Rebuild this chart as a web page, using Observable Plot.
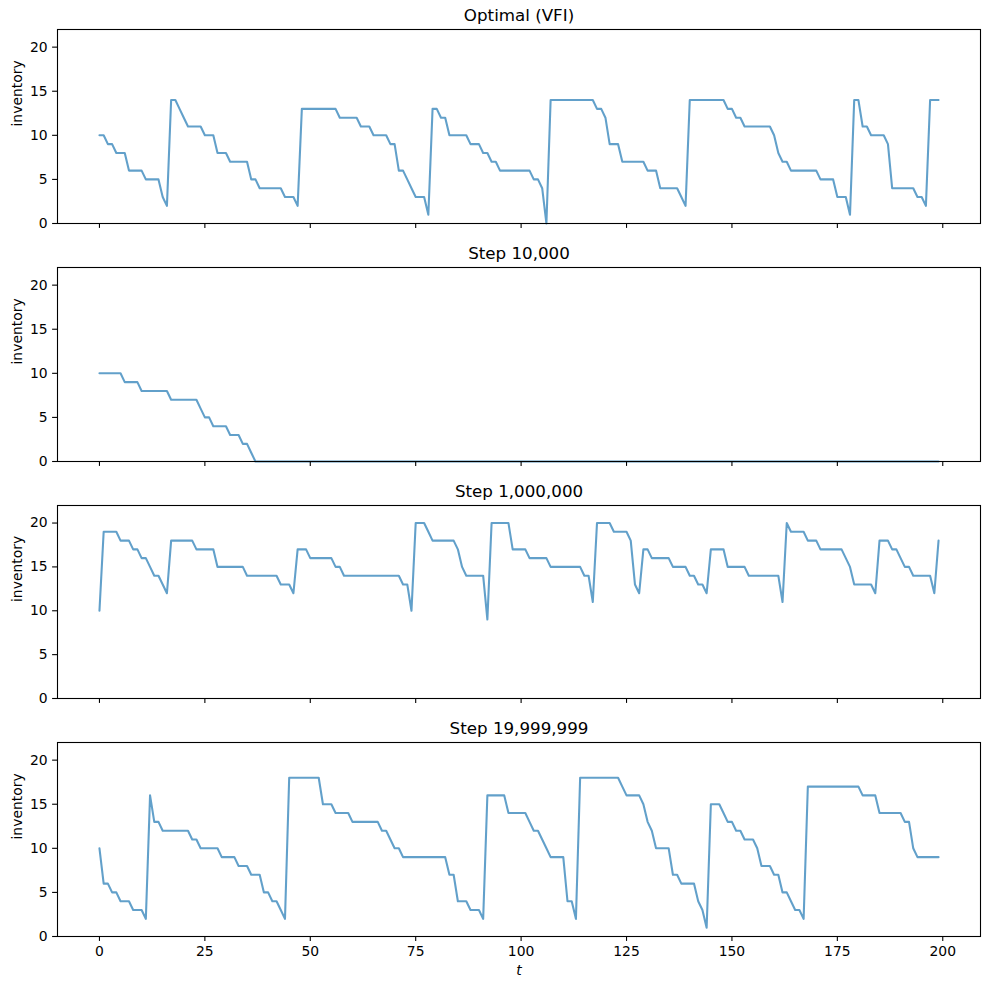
<!DOCTYPE html>
<html><head><meta charset="utf-8">
<script src="https://cdn.jsdelivr.net/npm/d3@7"></script>
<script src="https://cdn.jsdelivr.net/npm/@observablehq/plot@0.6"></script>
<style>body{margin:0;background:#fff} #chart svg{display:block}</style>
</head><body><div id="chart"></div>
<script>
const titles = ["Optimal (VFI)", "Step 10,000", "Step 1,000,000", "Step 19,999,999"];
const yLabel = "inventory";
const xLabel = "t";
const xTicks = [0, 25, 50, 75, 100, 125, 150, 175, 200];
const yTicks = [0, 5, 10, 15, 20];

const vfi = [10,10,9,9,8,8,8,6,6,6,
 6,5,5,5,5,3,2,14,14,13,
 12,11,11,11,11,10,10,10,8,8,
 8,7,7,7,7,7,5,5,4,4,
 4,4,4,4,3,3,3,2,13,13,
 13,13,13,13,13,13,13,12,12,12,
 12,12,11,11,11,10,10,10,10,9,
 9,6,6,5,4,3,3,3,1,13,
 13,12,12,10,10,10,10,10,9,9,
 9,8,8,7,7,6,6,6,6,6,
 6,6,6,5,5,4,0,14,14,14,
 14,14,14,14,14,14,14,14,13,13,
 12,9,9,9,7,7,7,7,7,7,
 6,6,6,4,4,4,4,4,3,2,
 14,14,14,14,14,14,14,14,14,13,
 13,12,12,11,11,11,11,11,11,11,
 10,8,7,7,6,6,6,6,6,6,
 6,5,5,5,5,3,3,3,1,14,
 14,11,11,10,10,10,10,9,4,4,
 4,4,4,4,3,3,2,14,14,14];

const step10k = [10,10,10,10,10,10,9,9,9,9,
 8,8,8,8,8,8,8,7,7,7,
 7,7,7,7,6,5,5,4,4,4,
 4,3,3,3,2,2,1,0,0,0,
 0,0,0,0,0,0,0,0,0,0,
 0,0,0,0,0,0,0,0,0,0,
 0,0,0,0,0,0,0,0,0,0,
 0,0,0,0,0,0,0,0,0,0,
 0,0,0,0,0,0,0,0,0,0,
 0,0,0,0,0,0,0,0,0,0,
 0,0,0,0,0,0,0,0,0,0,
 0,0,0,0,0,0,0,0,0,0,
 0,0,0,0,0,0,0,0,0,0,
 0,0,0,0,0,0,0,0,0,0,
 0,0,0,0,0,0,0,0,0,0,
 0,0,0,0,0,0,0,0,0,0,
 0,0,0,0,0,0,0,0,0,0,
 0,0,0,0,0,0,0,0,0,0,
 0,0,0,0,0,0,0,0,0,0,
 0,0,0,0,0,0,0,0,0,0];

const step1m = [10,19,19,19,19,18,18,18,17,17,
 16,16,15,14,14,13,12,18,18,18,
 18,18,18,17,17,17,17,17,15,15,
 15,15,15,15,15,14,14,14,14,14,
 14,14,14,13,13,13,12,17,17,17,
 16,16,16,16,16,16,15,15,14,14,
 14,14,14,14,14,14,14,14,14,14,
 14,14,13,13,10,20,20,20,19,18,
 18,18,18,18,18,17,15,14,14,14,
 14,14,9,20,20,20,20,20,17,17,
 17,17,16,16,16,16,16,15,15,15,
 15,15,15,15,15,14,14,11,20,20,
 20,20,19,19,19,19,18,13,12,17,
 17,16,16,16,16,16,15,15,15,15,
 14,14,13,13,12,17,17,17,17,15,
 15,15,15,15,14,14,14,14,14,14,
 14,14,11,20,19,19,19,19,18,18,
 18,17,17,17,17,17,17,16,15,13,
 13,13,13,13,12,18,18,18,17,17,
 16,15,15,14,14,14,14,14,12,18];

const step20m = [10,6,6,5,5,4,4,4,3,3,
 3,2,16,13,13,12,12,12,12,12,
 12,12,11,11,10,10,10,10,10,9,
 9,9,9,8,8,8,7,7,7,5,
 5,4,4,3,2,18,18,18,18,18,
 18,18,18,15,15,15,14,14,14,14,
 13,13,13,13,13,13,13,12,12,11,
 10,10,9,9,9,9,9,9,9,9,
 9,9,9,7,7,4,4,4,3,3,
 3,2,16,16,16,16,16,14,14,14,
 14,14,13,12,12,11,10,9,9,9,
 9,4,4,2,18,18,18,18,18,18,
 18,18,18,18,17,16,16,16,16,15,
 13,12,10,10,10,10,7,7,6,6,
 6,6,4,3,1,15,15,15,14,13,
 13,12,12,11,11,11,10,8,8,8,
 7,7,5,5,4,3,3,2,17,17,
 17,17,17,17,17,17,17,17,17,17,
 17,16,16,16,16,14,14,14,14,14,
 14,13,13,10,9,9,9,9,9,9];

const series = [vfi, step10k, step1m, step20m];
const heights = [238, 238, 237, 276];
const bottoms = [15, 15, 15, 53];
const chart = document.getElementById("chart");

series.forEach((vals, i) => {
  const data = vals.map((v, t) => ({t, v}));
  const last = i === series.length - 1;
  const svg = Plot.plot({
    width: 989,
    height: heights[i],
    marginTop: 29,
    marginBottom: bottoms[i],
    marginLeft: 57,
    marginRight: 9,
    style: {fontFamily: "DejaVu Sans", fontSize: "13.9px", color: "black", background: "white"},
    x: {domain: [-9.95, 208.95], label: null},
    y: {domain: [0, 22], label: null},
    marks: [
      Plot.line(data, {x: "t", y: "v", stroke: "#1f77b4", strokeOpacity: 0.7, strokeWidth: 2.08}),
      Plot.frame({stroke: "black", strokeWidth: 1.1}),
      Plot.axisY({ticks: yTicks, tickSize: 4.9, tickPadding: 4.9, label: null, strokeWidth: 1.1}),
      Plot.axisX({ticks: xTicks, tickSize: 4.9, tickPadding: 4.9, label: null, strokeWidth: 1.1,
        tickFormat: last ? (d => String(d)) : (() => "")}),
      Plot.text([titles[i]], {text: d => d, frameAnchor: "top", lineAnchor: "bottom", dy: -8.3, fontSize: 16.7}),
      Plot.text([yLabel], {text: d => d, frameAnchor: "left", rotate: -90, dx: -40, fontSize: 13.9}),
      last ? Plot.text([xLabel], {text: d => d, frameAnchor: "bottom", lineAnchor: "top", dy: 29, fontStyle: "italic", fontSize: 13.9}) : null
    ]
  });
  chart.appendChild(svg);
});
</script>
</body></html>
